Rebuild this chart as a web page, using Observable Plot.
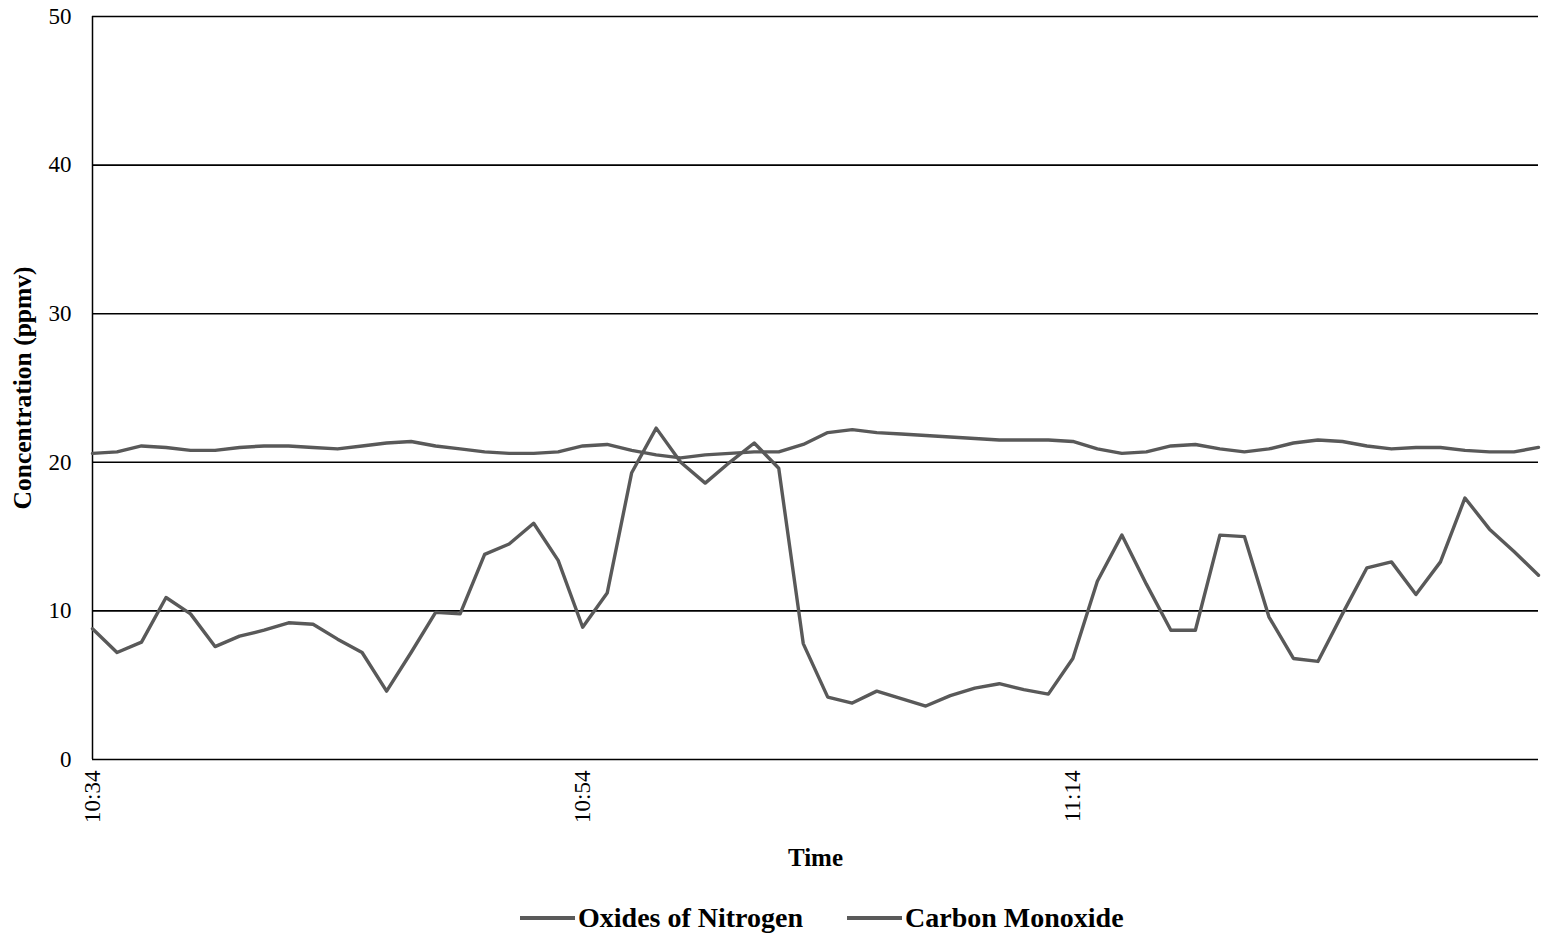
<!DOCTYPE html>
<html>
<head>
<meta charset="utf-8">
<script src="https://cdn.jsdelivr.net/npm/d3@7"></script>
<script src="https://cdn.jsdelivr.net/npm/@observablehq/plot@0.6"></script>
<style>
  html, body { margin: 0; padding: 0; background: #fff; }
  #wrap { position: relative; width: 1543px; height: 940px; font-family: "Liberation Serif", "Times New Roman", serif; }
  #legend { position: absolute; left: 520px; top: 902px; display: flex; align-items: center; gap: 44px; font-weight: bold; font-size: 28px; line-height: 32px; color: #000; }
  .item { display: flex; align-items: center; }
  .sw { width: 55px; height: 4px; background: #5a5a5a; margin-right: 3px; }
</style>
</head>
<body>
<div id="wrap"><div id="chart"></div><div id="legend"></div></div>
<script>
const times = ["10:34","10:35","10:36","10:37","10:38","10:39","10:40","10:41","10:42","10:43",
  "10:44","10:45","10:46","10:47","10:48","10:49","10:50","10:51","10:52","10:53",
  "10:54","10:55","10:56","10:57","10:58","10:59","11:00","11:01","11:02","11:03",
  "11:04","11:05","11:06","11:07","11:08","11:09","11:10","11:11","11:12","11:13",
  "11:14","11:15","11:16","11:17","11:18","11:19","11:20","11:21","11:22","11:23",
  "11:24","11:25","11:26","11:27","11:28","11:29","11:30","11:31","11:32","11:33"];
const seriesNames = ["Oxides of Nitrogen", "Carbon Monoxide"];
const nox = [8.8,7.2,7.9,10.9,9.8,7.6,8.3,8.7,9.2,9.1,
  8.1,7.2,4.6,7.2,9.9,9.8,13.8,14.5,15.9,13.4,
  8.9,11.2,19.3,22.3,20.0,18.6,20.0,21.3,19.6,7.8,
  4.2,3.8,4.6,4.1,3.6,4.3,4.8,5.1,4.7,4.4,
  6.8,12.0,15.1,11.8,8.7,8.7,15.1,15.0,9.6,6.8,
  6.6,9.8,12.9,13.3,11.1,13.3,17.6,15.5,14.0,12.4];
const co = [20.6,20.7,21.1,21.0,20.8,20.8,21.0,21.1,21.1,21.0,
  20.9,21.1,21.3,21.4,21.1,20.9,20.7,20.6,20.6,20.7,
  21.1,21.2,20.8,20.5,20.3,20.5,20.6,20.7,20.7,21.2,
  22.0,22.2,22.0,21.9,21.8,21.7,21.6,21.5,21.5,21.5,
  21.4,20.9,20.6,20.7,21.1,21.2,20.9,20.7,20.9,21.3,
  21.5,21.4,21.1,20.9,21.0,21.0,20.8,20.7,20.7,21.0];
const xTickLabels = ["10:34","10:54","11:14"];
const yTicks = [0,10,20,30,40,50];
const lineColor = "#595959";

const parse = d3.utcParse("%H:%M");
const data = [];
times.forEach((t, i) => {
  data.push({time: parse(t), value: nox[i], series: seriesNames[0]});
  data.push({time: parse(t), value: co[i], series: seriesNames[1]});
});

const chart = Plot.plot({
  width: 1543,
  height: 890,
  marginTop: 16,
  marginBottom: 131,
  marginLeft: 92,
  marginRight: 5,
  style: {fontFamily: "Liberation Serif, Times New Roman, serif", fontSize: "23px", color: "#000", background: "#fff"},
  x: {type: "utc", domain: [parse(times[0]), parse(times[times.length - 1])]},
  y: {domain: [0, 50]},
  marks: [
    Plot.ruleY(yTicks, {stroke: "#000", strokeWidth: 1.6}),
    Plot.ruleX([parse(times[0])], {stroke: "#000", strokeWidth: 1.5}),
    Plot.axisY({ticks: yTicks, tickSize: 0, tickPadding: 21, label: null, fontSize: 23}),
    Plot.axisX({ticks: xTickLabels.map(parse), tickFormat: d3.utcFormat("%H:%M"), tickRotate: -90, tickSize: 0, tickPadding: 11, label: null, fontSize: 23}),
    Plot.lineY(data, {x: "time", y: "value", z: "series", stroke: lineColor, strokeWidth: 3.4}),
    Plot.text(["Time"], {frameAnchor: "bottom", dy: 98, lineAnchor: "middle", textAnchor: "middle", fontWeight: "bold", fontSize: 25}),
    Plot.text(["Concentration (ppmv)"], {frameAnchor: "left", dx: -70, rotate: -90, lineAnchor: "middle", textAnchor: "middle", fontWeight: "bold", fontSize: 25.5})
  ]
});
document.getElementById("chart").appendChild(chart);

const legend = document.getElementById("legend");
seriesNames.forEach(name => {
  const item = document.createElement("div");
  item.className = "item";
  const sw = document.createElement("div");
  sw.className = "sw";
  const label = document.createElement("span");
  label.textContent = name;
  item.appendChild(sw);
  item.appendChild(label);
  legend.appendChild(item);
});
</script>
</body>
</html>
